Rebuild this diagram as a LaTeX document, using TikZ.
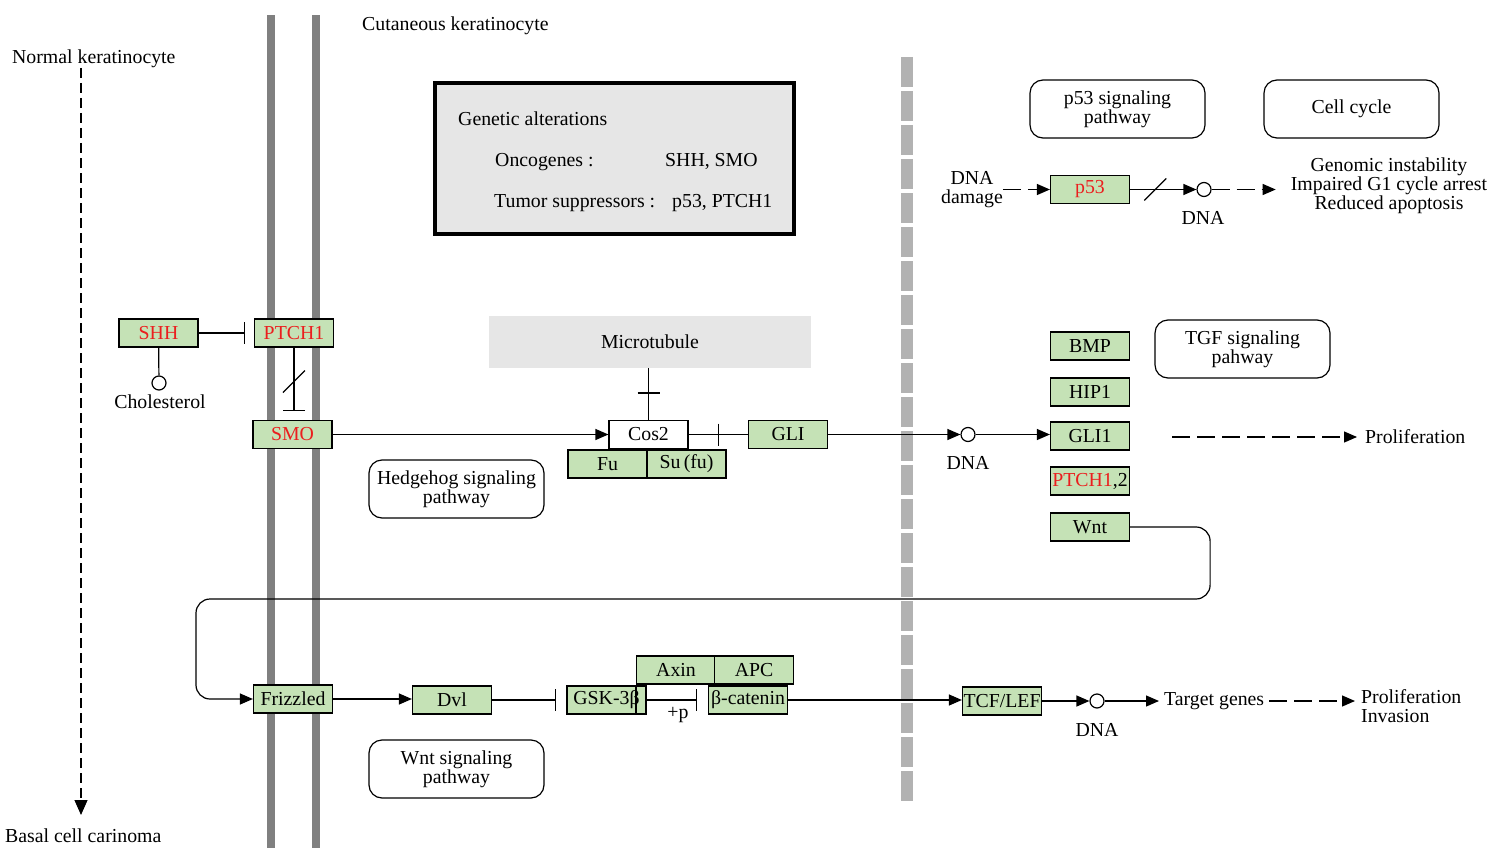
\documentclass[tikz,border=0pt]{standalone}
\usepackage{fontspec}
\setmainfont{Liberation Serif}
\usetikzlibrary{arrows.meta,calc}
\definecolor{genefill}{RGB}{197,226,182}
\definecolor{genered}{RGB}{235,30,30}
\definecolor{membrane}{RGB}{128,128,128}
\definecolor{dashbar}{RGB}{178,178,178}
\definecolor{panelgray}{RGB}{230,230,230}
\newcommand\kfont{\fontsize{19.8}{19}\selectfont}

\begin{document}
\begin{tikzpicture}[x=1pt,y=-1pt,font=\kfont,
  gene/.style={draw,line width=1.2pt,fill=genefill,minimum width=79pt,minimum height=28pt,inner sep=0pt},
  plainbox/.style={gene,fill=white},
  redtxt/.style={text=genered},
  mapbox/.style={draw,line width=1.2pt,rounded corners=13pt,minimum width=175pt,minimum height=58pt,align=center,inner sep=0pt},
  dnacirc/.style={circle,draw,line width=1.2pt,fill=white,minimum size=14pt,inner sep=0pt},
  lbl/.style={inner sep=0pt,align=center},
  link/.style={line width=1.2pt},
  act/.style={link,-{Triangle[length=13pt,width=11pt]}},
  inh/.style={link,-{Bar[width=22pt]}},
  dashact/.style={act,dash pattern=on 18pt off 7pt},
]
\useasboundingbox (0,0) rectangle (1507,848);

% cell membranes and the dashed boundary
\fill[membrane] (267,15) rectangle (275,848);
\fill[membrane] (312,15) rectangle (320,848);
\draw[dashbar,line width=12pt,dash pattern=on 30pt off 4pt] (907,57) -- (907,803);

% region labels
\node[lbl,anchor=base west] (cutaneous) at (362,31) {Cutaneous keratinocyte};
\node[lbl,anchor=base west] (normal) at (12,64) {Normal keratinocyte};
\node[lbl,anchor=base west] (basal) at (5,842) {Basal cell carinoma};
\coordinate (ktop) at (81,68);
\coordinate (kbot) at (81,815);
\draw[link,dash pattern=on 10pt off 5pt,-{Triangle[length=15pt,width=13pt]}] (ktop) -- (kbot);

% genetic alterations panel
\node[draw,line width=4pt,fill=panelgray,minimum width=359pt,minimum height=151pt,inner sep=0pt] (galt) at (614.5,158.5) {};
\node[lbl,anchor=base west] (galttitle) at (458,126) {Genetic alterations};
\node[lbl,anchor=base west] (oncolbl) at (495,166) {Oncogenes :};
\node[lbl,anchor=base west] (oncoval) at (665,166) {SHH, SMO};
\node[lbl,anchor=base west] (tsglbl) at (494,207) {Tumor suppressors :};
\node[lbl,anchor=base west] (tsgval) at (672,207) {p53, PTCH1};

% microtubule
\node[fill=panelgray,minimum width=322pt,minimum height=52pt,inner sep=0pt] (mt) at (650,342) {Microtubule};

% pathway map links
\node[mapbox] (p53path) at (1117.5,109) {p53 signaling\\pathway};
\node[mapbox] (cellcycle) at (1351.5,109) {Cell cycle};
\node[mapbox] (tgf) at (1242.5,349) {TGF signaling\\pahway};
\node[mapbox] (hhpath) at (456.5,489) {Hedgehog signaling\\pathway};
\node[mapbox] (wntpath) at (456.5,769) {Wnt signaling\\pathway};

% hedgehog signaling
\node[gene,redtxt] (shh) at (158.5,333) {SHH};
\node[gene,redtxt] (ptch1) at (294,333) {PTCH1};
\node[gene,redtxt] (smo) at (292.5,434.5) {SMO};
\node[dnacirc] (chol) at (159,383) {};
\node[lbl] (chollbl) at (160,402) {Cholesterol};
\node[gene] (fu) at (607.5,464) {Fu};
\node[gene] (sufu) at (686.5,464) {Su\,(fu)};
\node[plainbox] (cos2) at (648.5,434.5) {Cos2};
\node[gene] (gli) at (788,434.5) {GLI};
\node[dnacirc] (dna1) at (968,434.5) {};
\node[lbl] (dna1lbl) at (968,463) {DNA};

% target genes
\node[gene] (bmp) at (1090,346) {BMP};
\node[gene] (hip1) at (1090,392) {HIP1};
\node[gene] (gli1) at (1090,436) {GLI1};
\node[gene] (ptch12) at (1090,481) {\textcolor{genered}{PTCH1},2};
\node[gene] (wnt) at (1090,527) {Wnt};
\node[lbl,anchor=west] (prolif1) at (1365,437) {Proliferation};
\coordinate (pstart) at (1172,437);

% p53 branch
\node[lbl] (dnadmg) at (972,190) {DNA\\damage};
\node[gene,redtxt] (p53) at (1090,189.5) {p53};
\node[dnacirc] (dna2) at (1204,189.5) {};
\node[lbl] (dna2lbl) at (1203,218) {DNA};
\node[lbl] (outcome) at (1389,186) {Genomic instability\\Impaired G1 cycle arrest\\Reduced apoptosis};

% wnt signaling
\node[gene] (frizzled) at (293,699) {Frizzled};
\node[gene] (dvl) at (452,700) {Dvl};
\node[gene] (axin) at (676,670) {Axin};
\node[gene] (apc) at (754,670) {APC};
\node[gene] (gsk) at (606.5,700) {GSK-3β};
\node[gene] (bcat) at (748,700) {β-catenin};
\node[lbl] (plusp) at (678,715) {+p};
\node[gene] (tcflef) at (1002,701) {TCF/LEF};
\node[dnacirc] (dna3) at (1097,701) {};
\node[lbl] (dna3lbl) at (1097,730) {DNA};
\node[lbl,anchor=west] (targets) at (1164,701) {Target genes};
\node[lbl,anchor=west,align=left] (prolif2) at (1361,706) {Proliferation\\Invasion};
\coordinate (loopturn) at (196,599);

% hedgehog connectors
\draw[inh,shorten >=8.5pt] (shh) -- (ptch1);
\draw[link] (shh) -- (chol);
\draw[inh,shorten >=9pt] (ptch1.south) -- (ptch1.south |- smo.north);
\draw[link] ($(ptch1.south)!0.47!(ptch1.south |- smo.north)$) +(-11,11) -- +(11,-11);
\draw[act] (smo.east) -- (smo.east -| cos2.west);
\draw[link] (cos2.east) -- (gli.west);
\draw[link] ($(cos2.east)!0.5!(gli.west)$) +(0,-11) -- +(0,11);
\draw[link] (mt.south -| cos2.north) -- (cos2.north);
\draw[link] ($(mt.south -| cos2.north)!0.48!(cos2.north)$) +(-11,0) -- +(11,0);
\draw[act] (gli) -- (dna1);
\draw[act] (dna1) -- (dna1 -| gli1.west);
\draw[dashact,shorten >=8pt] (pstart) -- (prolif1.west);

% p53 connectors
\draw[dashact] (dnadmg.east |- p53.west) -- (p53.west);
\draw[act] (p53) -- (dna2);
\draw[link] ($(p53.east)!0.38!(dna2.west)$) +(-11,11) -- +(11,-11);
\draw[dashact,shorten >=15pt] (dna2.east) -- (dna2.east -| outcome.west);

% wnt connectors
\draw[act,rounded corners=14pt] (wnt.east) -- ++(80,0) |- (loopturn) |- (frizzled.west);
\draw[act] (frizzled.east) -- (frizzled.east -| dvl.west);
\draw[inh,shorten >=10pt] (dvl) -- (gsk);
\draw[link] (axin.west |- gsk.north) -- (axin.west |- gsk.south);
\draw[inh,shorten >=11pt] (gsk) -- (bcat);
\draw[act] (bcat.east) -- (bcat.east -| tcflef.west);
\draw[act] (tcflef) -- (dna3);
\draw[act,shorten >=5pt] (dna3) -- (targets.west);
\draw[dashact,shorten <=5pt,shorten >=6pt] (targets.east) -- (targets.east -| prolif2.west);
\end{tikzpicture}
\end{document}
